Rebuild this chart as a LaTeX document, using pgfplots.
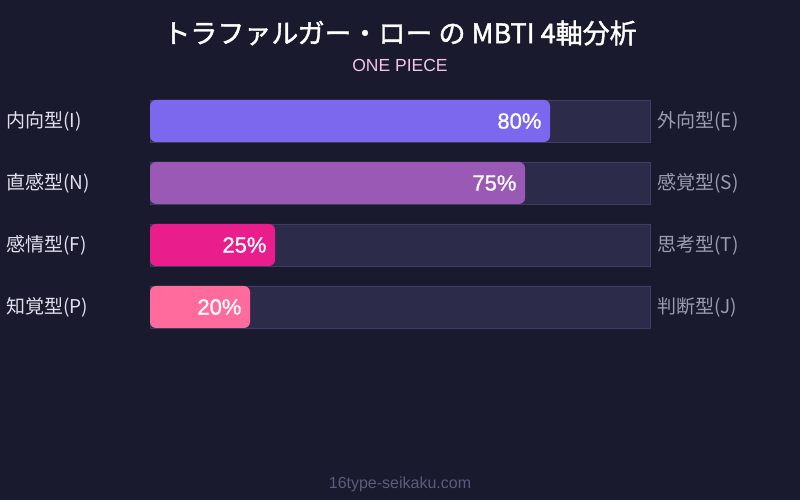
\documentclass[border=0pt]{standalone}
\usepackage{pgfplots}
\pgfplotsset{compat=1.18}
\usepackage{pgfplotstable}
\usepackage{fontspec}
\setmainfont{Noto Sans CJK JP}
\newfontfamily\jpbold{Noto Sans CJK JP}[FakeBold=1.5]
\newfontfamily\latin{Liberation Sans}
\newfontfamily\latinmed{Liberation Sans}[FakeBold=0.9]

\definecolor{bg}{HTML}{1A1A2E}
\definecolor{track}{HTML}{2D2B4A}
\definecolor{trackedge}{HTML}{403E60}
\definecolor{cI}{HTML}{7B68EE}
\definecolor{cN}{HTML}{9B59B6}
\definecolor{cF}{HTML}{E91E8C}
\definecolor{cP}{HTML}{FF6B9D}
\definecolor{lefttext}{HTML}{E0E0EE}
\definecolor{righttext}{HTML}{9C9CB0}
\definecolor{subtitle}{HTML}{F3C4E4}
\definecolor{footer}{HTML}{5C5C7C}

% axis position (top = 0) and percentage of the first pole
\pgfplotstableread{
pos value
0   80
1   75
2   25
3   20
}\axesdata

\begin{document}
\begin{tikzpicture}[x=1pt,y=1pt]
  \fill[bg] (0,0) rectangle (800,500);
  \node[white, font=\fontsize{27}{31}\selectfont\jpbold] at (400,467) {トラファルガー・ロー の MBTI 4軸分析};
  \node[subtitle, font=\fontsize{17.5}{20}\selectfont\latin] at (400,435) {ONE PIECE};
  \node[footer, font=\fontsize{16}{19}\selectfont\latin] at (400,16) {16type-seikaku.com};

  \begin{axis}[
    at={(150pt,172pt)}, anchor=south west,
    scale only axis, width=500pt, height=228pt,
    xmin=0, xmax=100,
    ymin=-0.33871, ymax=3.33871,
    y dir=reverse,
    axis line style={draw=none},
    ticks=none,
    clip=false,
    /pgf/number format/assume math mode=true,
    xbar, bar shift=0pt, bar width=42pt,
    nodes near coords={\pgfmathprintnumber{\pgfplotspointmeta}\%},
    nodes near coords style={anchor=east, xshift=-5pt, text=white,
      font=\fontsize{22}{25}\selectfont\latinmed},
  ]
    % background tracks
    \addplot[fill=track, draw=trackedge, line width=0.6pt, nodes near coords={}]
      coordinates {(100,0) (100,1) (100,2) (100,3)};
    % value bars
    \addplot[fill=cI, draw=none, rounded corners=6pt] table[x=value, y=pos, restrict expr to domain={\thisrow{pos}}{0:0}] {\axesdata};
    \addplot[fill=cN, draw=none, rounded corners=6pt] table[x=value, y=pos, restrict expr to domain={\thisrow{pos}}{1:1}] {\axesdata};
    \addplot[fill=cF, draw=none, rounded corners=6pt] table[x=value, y=pos, restrict expr to domain={\thisrow{pos}}{2:2}] {\axesdata};
    \addplot[fill=cP, draw=none, rounded corners=6pt] table[x=value, y=pos, restrict expr to domain={\thisrow{pos}}{3:3}] {\axesdata};

    % left poles
    \begin{scope}[every node/.style={anchor=west, text=lefttext, font=\fontsize{19}{22}\selectfont}]
      \node at ([xshift=-147pt]axis cs:0,0) {内向型(I)};
      \node at ([xshift=-147pt]axis cs:0,1) {直感型(N)};
      \node at ([xshift=-147pt]axis cs:0,2) {感情型(F)};
      \node at ([xshift=-147pt]axis cs:0,3) {知覚型(P)};
    \end{scope}
    % right poles
    \begin{scope}[every node/.style={anchor=west, text=righttext, font=\fontsize{19}{22}\selectfont}]
      \node at ([xshift=4pt]axis cs:100,0) {外向型(E)};
      \node at ([xshift=4pt]axis cs:100,1) {感覚型(S)};
      \node at ([xshift=4pt]axis cs:100,2) {思考型(T)};
      \node at ([xshift=4pt]axis cs:100,3) {判断型(J)};
    \end{scope}
  \end{axis}
\end{tikzpicture}
\end{document}
